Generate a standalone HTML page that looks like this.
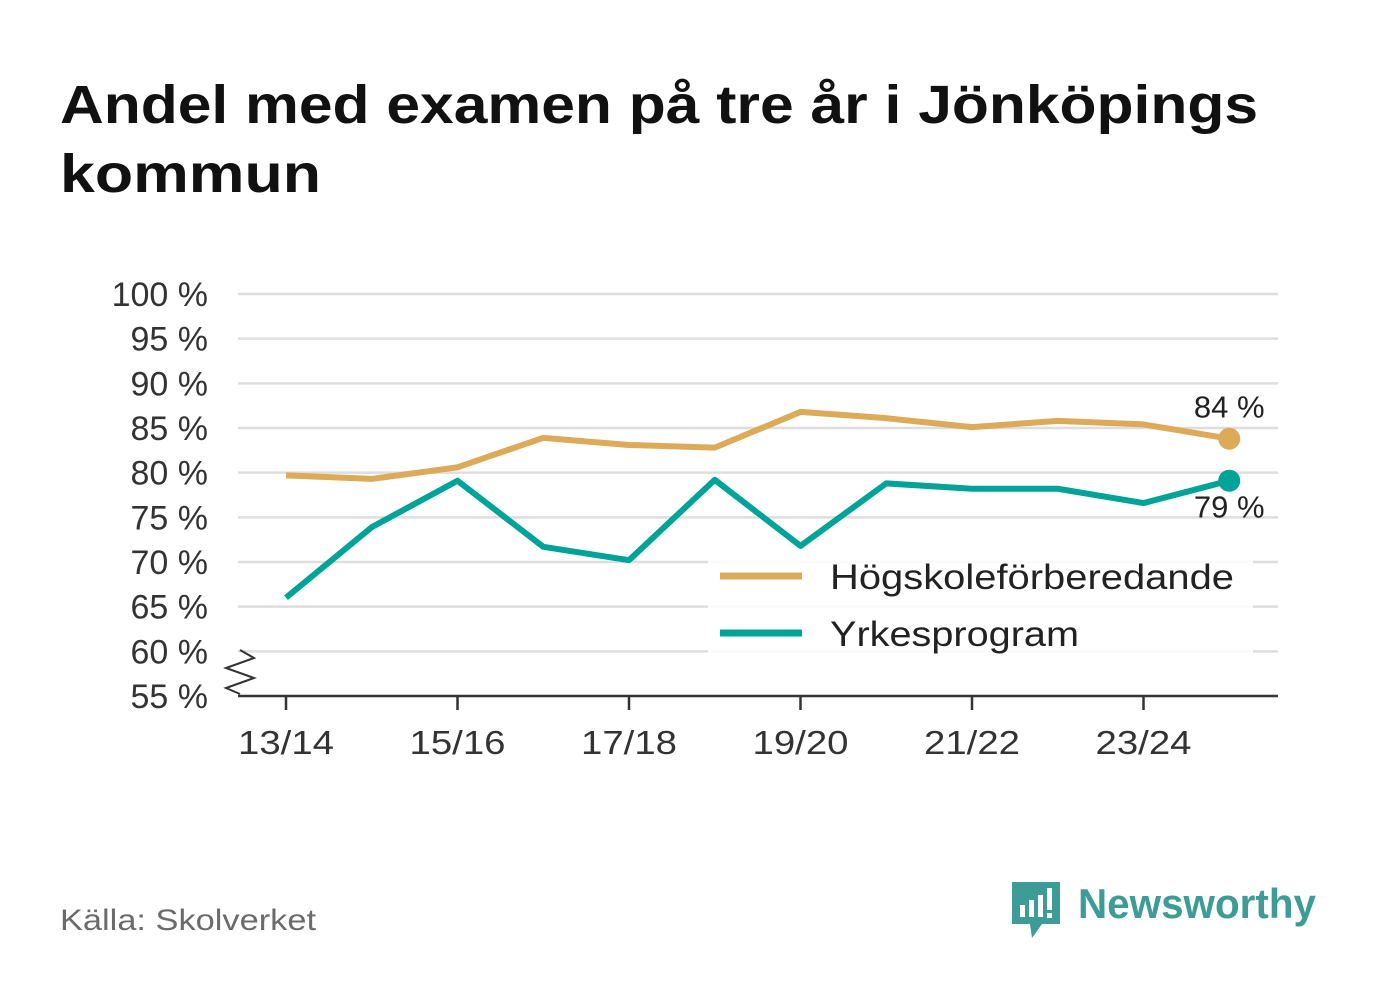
<!DOCTYPE html>
<html><head><meta charset="utf-8"><style>
body{margin:0;background:#fff;width:1382px;height:999px;overflow:hidden;font-family:"Liberation Sans","DejaVu Sans",sans-serif}
</style></head><body>
<svg width="1382" height="999">
<text x="60" y="123" font-size="54" font-weight="bold" fill="#111" textLength="1198" lengthAdjust="spacingAndGlyphs">Andel med examen på tre år i Jönköpings</text>
<text x="60" y="192" font-size="54" font-weight="bold" fill="#111" textLength="261" lengthAdjust="spacingAndGlyphs">kommun</text>
<g id="grid"></g>
<g id="ylab" font-size="33" fill="#333" text-anchor="end"></g>
<g id="xlab" font-size="33" fill="#333" text-anchor="middle"></g>
<line x1="238" y1="696" x2="1278" y2="696" stroke="#333" stroke-width="2.5"/>
<path d="M240 650 L254 658 L226 668 L254 678 L226 688 L240 694" fill="none" stroke="#333" stroke-width="2"/>
<g id="series"></g>
<rect x="708" y="553" width="545" height="100" fill="#fff" opacity="0.85"/>
<g><line x1="720" y1="576" x2="802" y2="576" stroke="#dcaa58" stroke-width="7"/><text x="830" y="589" font-size="35" fill="#222" textLength="404" lengthAdjust="spacingAndGlyphs">Högskoleförberedande</text></g>
<g><line x1="720" y1="633" x2="802" y2="633" stroke="#00a398" stroke-width="7"/><text x="830" y="646" font-size="35" fill="#222" textLength="249" lengthAdjust="spacingAndGlyphs">Yrkesprogram</text></g>
<text x="60" y="930" font-size="30" fill="#6b6b6b" textLength="256" lengthAdjust="spacingAndGlyphs">Källa: Skolverket</text>
<g>
<path d="M1012 882 h48 v42 h-18 l-10 14 l-2 -14 h-18 z" fill="#3e9c96"/>
<rect x="1020" y="905" width="5" height="12" fill="#fff"/><rect x="1029" y="900" width="5" height="17" fill="#fff"/><rect x="1038" y="895" width="5" height="22" fill="#fff"/><rect x="1047" y="888" width="5" height="22" fill="#fff"/><rect x="1047" y="913" width="5" height="5" fill="#fff"/>
<text x="1078" y="918" font-size="42" font-weight="bold" fill="#3e9c96" textLength="238" lengthAdjust="spacingAndGlyphs">Newsworthy</text>
</g>
</svg>
<script>
const categories=["13/14","14/15","15/16","16/17","17/18","18/19","19/20","20/21","21/22","22/23","23/24","24/25"];
const hogskole=[79.7,79.3,80.6,83.9,83.1,82.8,86.8,86.1,85.1,85.8,85.4,83.8];
const yrkes=[66.0,73.9,79.1,71.7,70.2,79.2,71.8,78.8,78.2,78.2,76.6,79.1];
const yTicks=[55,60,65,70,75,80,85,90,95,100];
const NS="http://www.w3.org/2000/svg";
const x=i=>286+i*85.75;
const y=v=>696-(v-55)*(402/45);
function mk(t,a,p){const e=document.createElementNS(NS,t);for(const k in a)e.setAttribute(k,a[k]);p.appendChild(e);return e;}
const grid=document.getElementById('grid'),yl=document.getElementById('ylab'),xl=document.getElementById('xlab'),sg=document.getElementById('series');
yTicks.forEach(v=>{
 if(v>55){const l=mk('line',{x1:238,x2:1278,y1:y(v),y2:y(v),stroke:'#dedede','stroke-width':2.5},grid);
 
 }
 const t=mk('text',{x:208,y:y(v)+12,'font-size':34},yl);t.textContent=v+' %';
 
 
});
categories.forEach((c,i)=>{
 if(i%2==0){
 const tk=mk('line',{x1:x(i),x2:x(i),y1:696,y2:710,stroke:'#333','stroke-width':2.5},xl);
 
 
 const t=mk('text',{x:x(i),y:754,textLength:96,lengthAdjust:'spacingAndGlyphs'},xl);t.textContent=c;
 
 }
});
function line(vals,col,name){
 const p=mk('polyline',{points:vals.map((v,i)=>x(i)+','+y(v)).join(' '),fill:'none',stroke:col,'stroke-width':6,'stroke-linejoin':'round'},sg);
 
 
 const n=vals.length-1;
 const c=mk('circle',{cx:x(n),cy:y(vals[n]),r:11,fill:col},sg);
 
 
 return n;
}
const n1=line(hogskole,'#dcaa58','hogskole');
const n2=line(yrkes,'#00a398','yrkes');
let t1=mk('text',{x:x(n1),y:y(hogskole[n1])-21,'font-size':31,fill:'#222','text-anchor':'middle'},sg);t1.textContent=Math.round(hogskole[n1])+' %';


let t2=mk('text',{x:x(n2),y:y(yrkes[n2])+37,'font-size':31,fill:'#222','text-anchor':'middle'},sg);t2.textContent=Math.round(yrkes[n2])+' %';


</script>
</body></html>
